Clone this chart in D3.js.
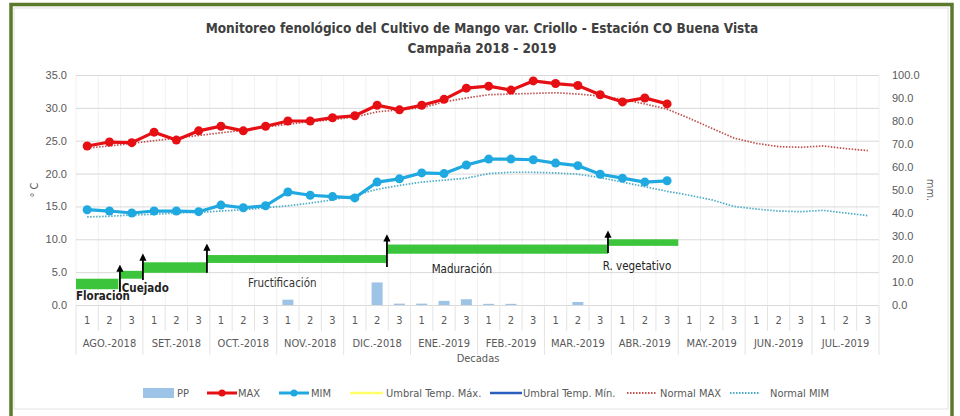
<!DOCTYPE html>
<meta charset="utf-8">

<script src="https://d3js.org/d3.v7.min.js"></script>

<style type="text/css">

body {
    margin: 0;
    background: #fff;
}

svg {
    font-family: "Liberation Sans Narrow", "DejaVu Sans Condensed", sans-serif;
}

.axis text {
    font-size: 11px;
    fill: #595959;
}

.axis path {
    display: none;
}

.yL line {
    stroke: #d9d9d9;
    stroke-width: 1px;
}

.title {
    font-size: 13.5px;
    font-weight: bold;
    fill: #404040;
}

.legend text {
    font-size: 11px;
    fill: #595959;
}

</style>

<body>
</body>

<script>

// categories
var months = ["AGO.-2018", "SET.-2018", "OCT.-2018", "NOV.-2018", "DIC.-2018", "ENE.-2019",
              "FEB.-2019", "MAR.-2019", "ABR.-2019", "MAY.-2019", "JUN.-2019", "JUL.-2019"];
var decadeNames = ["1", "2", "3"];

// precipitation per decade (mm)
var pp = [0, 0, 0, 0, 0, 0, 0, 0, 0, 2.3, 0, 0, 0, 9.8, 0.6, 0.6, 1.8, 2.5,
          0.5, 0.5, 0, 0, 1.3, 0, 0, 0, 0, 0, 0, 0, 0, 0, 0, 0, 0, 0];

// observed temperatures (degC), AGO 1 .. ABR 3
var tmax = [24.2, 24.8, 24.7, 26.3, 25.1, 26.5, 27.2, 26.5, 27.2, 28.0, 28.0, 28.5, 28.8, 30.4,
            29.7, 30.4, 31.3, 33.0, 33.3, 32.7, 34.1, 33.7, 33.4, 32.0, 30.9, 31.5, 30.6];
var tmin = [14.5, 14.3, 14.0, 14.3, 14.3, 14.2, 15.2, 14.8, 15.1, 17.2, 16.7, 16.5, 16.3, 18.7,
            19.2, 20.1, 20.0, 21.3, 22.2, 22.2, 22.1, 21.6, 21.2, 19.9, 19.3, 18.7, 18.9];

// normals (degC), all 36 decades
var normalMax = [23.9, 24.2, 24.6, 25.0, 25.4, 25.8, 26.2, 26.6, 27.1, 27.5, 27.9, 28.2,
                 28.6, 29.4, 29.7, 30.0, 30.9, 31.5, 32.0, 32.1, 32.2, 32.3, 32.1, 31.8,
                 31.3, 30.6, 29.8, 28.4, 26.9, 25.4, 24.6, 24.1, 24.0, 24.2, 23.8, 23.5];
var normalMin = [13.4, 13.5, 13.7, 13.8, 14.0, 14.1, 14.3, 14.5, 14.8, 15.1, 15.5, 16.0,
                 16.7, 17.6, 18.2, 18.7, 19.0, 19.3, 20.0, 20.2, 20.2, 20.1, 19.9, 19.4,
                 18.7, 18.0, 17.3, 16.7, 16.0, 15.0, 14.6, 14.3, 14.2, 14.4, 14.0, 13.6];

// phenological phases (decade units, left axis values)
var phaseStart = [0, 1.97, 3.0, 5.87, 13.94, 23.85];
var phaseEnd   = [1.9, 3.0, 5.87, 13.94, 23.85, 27.0];
var phaseLow   = [2.4, 4.0, 4.9, 6.4, 7.8, 9.0];
var phaseHigh  = [4.0, 5.2, 6.5, 7.6, 9.2, 10.0];

var arrowAt   = [1.97, 3.0, 5.87, 13.94, 23.85];
var arrowFrom = [2.0, 3.8, 4.9, 5.8, 7.9];
var arrowTo   = [5.6, 7.3, 8.8, 10.2, 10.8];

var phaseLabels = ["Floración", "Cuejado", "Fructificación", "Maduración", "R. vegetativo"];

var legendNames = ["PP", "MAX", "MIM", "Umbral Temp. Máx.", "Umbral Temp. Mín.", "Normal MAX", "Normal MIM"];

// layout
var width = 960, height = 416;
var plotLeft = 76, plotRight = 879, plotTop = 75, plotBottom = 305;

var svg = d3.select("body").append("svg")
    .attr("width", width)
    .attr("height", height);

svg.append("rect")
    .attr("x", 14).attr("y", 8)
    .attr("width", 934).attr("height", 401)
    .attr("fill", "none")
    .attr("stroke", "#e2e2e2");

svg.append("rect")
    .attr("x", 11).attr("y", 4.5)
    .attr("width", 941).attr("height", 430)
    .attr("fill", "none")
    .attr("stroke", "#5b7a2c")
    .attr("stroke-width", 3.5);

var nDec = months.length * 3;
var decades = d3.range(nDec);

var xScale = d3.scaleBand().domain(decades).range([plotLeft, plotRight]);
var xLin = d3.scaleLinear().domain([0, nDec]).range([plotLeft, plotRight]);
var monthScale = d3.scaleBand().domain(months).range([plotLeft, plotRight]);
var yL = d3.scaleLinear().domain([0, 35]).range([plotBottom, plotTop]);
var yR = d3.scaleLinear().domain([0, 100]).range([plotBottom, plotTop]);

// titles
svg.append("text").attr("class", "title")
    .attr("x", 482).attr("y", 33).attr("text-anchor", "middle")
    .text("Monitoreo fenológico del Cultivo de  Mango var. Criollo - Estación CO Buena Vista");
svg.append("text").attr("class", "title")
    .attr("x", 482).attr("y", 53).attr("text-anchor", "middle")
    .text("Campaña 2018 - 2019");

// vertical light grid at every decade
svg.append("g")
    .selectAll("line")
    .data(d3.range(nDec + 1))
    .enter().append("line")
    .attr("x1", function(d) { return xLin(d); })
    .attr("x2", function(d) { return xLin(d); })
    .attr("y1", plotTop).attr("y2", plotBottom)
    .attr("stroke", "#f1f1f1");

// left axis with horizontal grid
svg.append("g")
    .attr("class", "axis yL")
    .attr("transform", "translate(" + plotLeft + ",0)")
    .call(d3.axisLeft(yL)
        .tickValues(d3.range(0, 36, 5))
        .tickFormat(d3.format(".1f"))
        .tickSize(-(plotRight - plotLeft))
        .tickPadding(9));

svg.append("g")
    .attr("class", "axis yR")
    .attr("transform", "translate(" + plotRight + ",0)")
    .call(d3.axisRight(yR)
        .tickValues(d3.range(0, 101, 10))
        .tickFormat(d3.format(".1f"))
        .tickSize(0)
        .tickPadding(13));

svg.append("text")
    .attr("transform", "translate(38,190) rotate(-90)")
    .attr("text-anchor", "middle")
    .style("font-size", "11px").style("fill", "#595959")
    .text("° C");

svg.append("text")
    .attr("transform", "translate(927,190) rotate(90)")
    .attr("text-anchor", "middle")
    .style("font-size", "11px").style("fill", "#595959")
    .text("mm.");

// category axis
var xAxisG = svg.append("g").attr("class", "axis x");

xAxisG.selectAll(".decSep")
    .data(d3.range(nDec + 1))
    .enter().append("line")
    .attr("class", "decSep")
    .attr("x1", function(d) { return xLin(d); })
    .attr("x2", function(d) { return xLin(d); })
    .attr("y1", plotBottom)
    .attr("y2", function(d) { return d % 3 == 0 ? 355 : 331; })
    .attr("stroke", "#e3e3e3");

xAxisG.selectAll(".decText")
    .data(decades)
    .enter().append("text")
    .attr("class", "decText")
    .attr("x", function(d) { return xScale(d) + xScale.bandwidth() / 2; })
    .attr("y", 324)
    .attr("text-anchor", "middle")
    .text(function(d) { return decadeNames[d % 3]; });

xAxisG.selectAll(".monText")
    .data(months)
    .enter().append("text")
    .attr("class", "monText")
    .attr("x", function(d) { return monthScale(d) + monthScale.bandwidth() / 2; })
    .attr("y", 347)
    .attr("text-anchor", "middle")
    .text(function(d) { return d; });

svg.append("text")
    .attr("x", 478).attr("y", 362)
    .attr("text-anchor", "middle")
    .style("font-size", "11px").style("fill", "#595959")
    .text("Decadas");

// precipitation bars
var barW = 11;
svg.append("g")
    .selectAll("rect")
    .data(pp)
    .enter().append("rect")
    .attr("x", function(d, i) { return xScale(i) + xScale.bandwidth() / 2 - barW / 2; })
    .attr("y", function(d) { return yR(d); })
    .attr("width", barW)
    .attr("height", function(d) { return yR(0) - yR(d); })
    .attr("fill", "#9dc3e6");

// phases
svg.append("g")
    .selectAll("rect")
    .data(phaseStart)
    .enter().append("rect")
    .attr("x", function(d) { return xLin(d); })
    .attr("y", function(d, i) { return yL(phaseHigh[i]); })
    .attr("width", function(d, i) { return xLin(phaseEnd[i]) - xLin(d); })
    .attr("height", function(d, i) { return yL(phaseLow[i]) - yL(phaseHigh[i]); })
    .attr("fill", "#3cc43c");

svg.append("defs").append("marker")
    .attr("id", "arrowHead")
    .attr("viewBox", "0 0 10 10")
    .attr("refX", 5).attr("refY", 5)
    .attr("markerWidth", 4).attr("markerHeight", 4)
    .attr("orient", "auto")
    .append("path")
    .attr("d", "M0,0 L10,5 L0,10 z")
    .attr("fill", "#000");

svg.append("g")
    .selectAll("line")
    .data(arrowAt)
    .enter().append("line")
    .attr("x1", function(d) { return xLin(d); })
    .attr("x2", function(d) { return xLin(d); })
    .attr("y1", function(d, i) { return yL(arrowFrom[i]); })
    .attr("y2", function(d, i) { return yL(arrowTo[i]); })
    .attr("stroke", "#000")
    .attr("stroke-width", 1.8)
    .attr("marker-end", "url(#arrowHead)");

// phase labels: [decade position, value, anchor, colour, weight]
var labelPos = [[0, 1.3, "start", "#222", "bold"],
                [2.05, 2.6, "start", "#222", "bold"],
                [9.25, 3.4, "middle", "#333", "normal"],
                [17.3, 5.5, "middle", "#222", "normal"],
                [25.15, 5.9, "middle", "#222", "normal"]];

svg.append("g")
    .selectAll("text")
    .data(phaseLabels)
    .enter().append("text")
    .attr("x", function(d, i) { return xLin(labelPos[i][0]); })
    .attr("y", function(d, i) { return yL(labelPos[i][1]) + 4; })
    .attr("text-anchor", function(d, i) { return labelPos[i][2]; })
    .style("fill", function(d, i) { return labelPos[i][3]; })
    .style("font-weight", function(d, i) { return labelPos[i][4]; })
    .style("font-size", "11.5px")
    .style("font-family", "'DejaVu Sans Condensed', sans-serif")
    .text(function(d) { return d; });

// normal lines
var cx = function(d, i) { return xScale(i) + xScale.bandwidth() / 2; };
var lineL = d3.line().x(cx).y(function(d) { return yL(d); });

svg.append("path")
    .datum(normalMax)
    .attr("d", lineL)
    .attr("fill", "none")
    .attr("stroke", "#c0504d")
    .attr("stroke-width", 1.7)
    .attr("stroke-dasharray", "1.5,1.5");

svg.append("path")
    .datum(normalMin)
    .attr("d", lineL)
    .attr("fill", "none")
    .attr("stroke", "#4bacc6")
    .attr("stroke-width", 1.7)
    .attr("stroke-dasharray", "1.5,1.5");

// observed series
function drawSeries(values, colour) {
    svg.append("path")
        .datum(values)
        .attr("d", lineL)
        .attr("fill", "none")
        .attr("stroke", colour)
        .attr("stroke-width", 3.2);
    svg.append("g")
        .selectAll("circle")
        .data(values)
        .enter().append("circle")
        .attr("cx", cx)
        .attr("cy", function(d) { return yL(d); })
        .attr("r", 4.5)
        .attr("fill", colour);
}

drawSeries(tmax, "#e50f14");
drawSeries(tmin, "#1fa9e0");

// legend
var legX = [143, 207, 279, 350, 490, 627, 730];
var legend = svg.append("g").attr("class", "legend");
var ly = 393;

legend.append("rect").attr("x", legX[0]).attr("y", ly - 5).attr("width", 31).attr("height", 10).attr("fill", "#9dc3e6");

[[1, "#e50f14"], [2, "#1fa9e0"]].forEach(function(s) {
    legend.append("line").attr("x1", legX[s[0]]).attr("x2", legX[s[0]] + 30)
        .attr("y1", ly).attr("y2", ly).attr("stroke", s[1]).attr("stroke-width", 3);
    legend.append("circle").attr("cx", legX[s[0]] + 15).attr("cy", ly).attr("r", 3.5).attr("fill", s[1]);
});

legend.append("line").attr("x1", legX[3]).attr("x2", legX[3] + 33)
    .attr("y1", ly).attr("y2", ly).attr("stroke", "#ffff66").attr("stroke-width", 2.5);
legend.append("line").attr("x1", legX[4]).attr("x2", legX[4] + 32)
    .attr("y1", ly).attr("y2", ly).attr("stroke", "#2a5fbf").attr("stroke-width", 2.5);
legend.append("line").attr("x1", legX[5]).attr("x2", legX[5] + 30)
    .attr("y1", ly).attr("y2", ly).attr("stroke", "#c0504d").attr("stroke-width", 2).attr("stroke-dasharray", "1.5,1.5");
legend.append("line").attr("x1", legX[6]).attr("x2", legX[6] + 30)
    .attr("y1", ly).attr("y2", ly).attr("stroke", "#4bacc6").attr("stroke-width", 2).attr("stroke-dasharray", "1.5,1.5");

var legTextOff = [34, 31, 32, 36, 33, 33, 40];
legend.selectAll("text")
    .data(legendNames)
    .enter().append("text")
    .attr("x", function(d, i) { return legX[i] + legTextOff[i]; })
    .attr("y", ly + 4)
    .text(function(d) { return d; });

</script>
